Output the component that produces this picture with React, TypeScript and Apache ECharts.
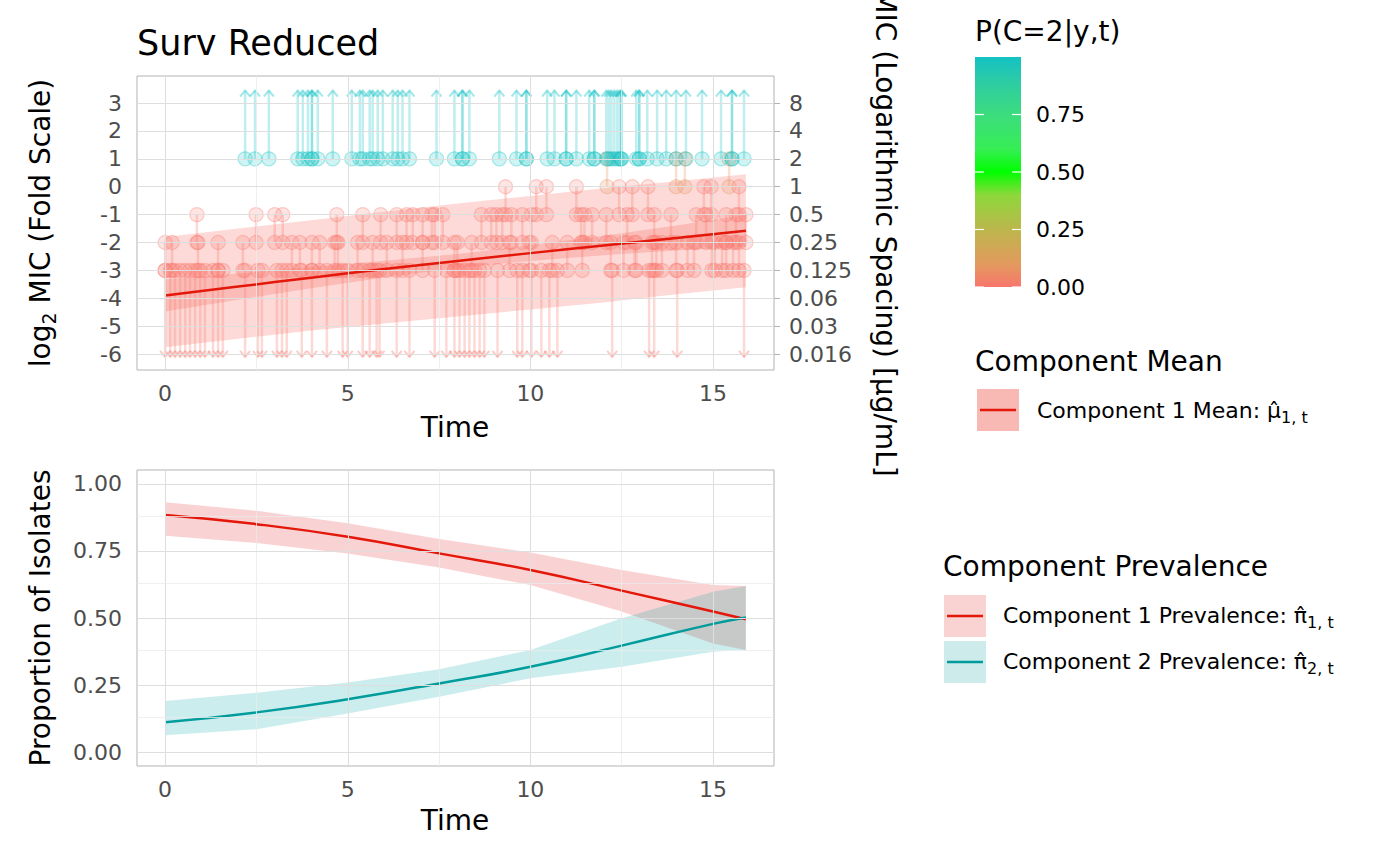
import * as echarts from 'echarts';
import React, { useEffect, useRef } from 'react';

const FONT = 'DejaVu Sans';

// ---- top panel: observed MIC values (log2 scale) ----
// right-censored isolates, observed at log2 = 1, arrow upwards
const rightCensTime = [
  2.19, 2.46, 2.84, 3.63, 3.77, 3.91, 4.02, 4.02, 4.18, 4.59, 5.11, 5.33, 5.41, 5.6, 5.68,
  5.82, 5.96, 6.23, 6.37, 6.5, 6.69, 7.43, 7.92, 8.14, 8.14, 8.33, 9.15, 9.62, 9.89, 9.89,
  10.46, 10.66, 10.98, 10.98, 11.26, 11.61, 11.75, 11.75, 12.08, 12.15, 12.22, 12.3, 12.38,
  12.45, 12.49, 12.49, 12.9, 12.98, 12.98, 13.2, 13.47, 13.72, 13.99, 14.26, 14.7, 15.22,
  15.52, 15.52, 15.85,
];
const rightCensLower = 1;
const rightCensProb = 1;

// left-censored isolates, observed at log2 = -3, arrow downwards
const leftCensTime = [
  0.0, 0.14, 0.27, 0.41, 0.55, 0.68, 0.82, 0.96, 1.09, 1.31, 1.45, 1.58, 2.19, 2.54, 2.65,
  3.06, 3.2, 3.33, 3.74, 4.02, 4.43, 4.86, 5.0, 5.41, 5.6, 5.79, 5.87, 6.34, 6.69, 7.38,
  7.7, 7.92, 8.06, 8.2, 8.33, 8.47, 8.61, 8.74, 9.1, 9.64, 9.78, 10.03, 10.3, 10.52, 10.74,
  12.24, 13.25, 13.39, 14.02, 15.85,
];
const leftCensUpper = -3;
const leftCensProb = 0;

// interval-censored isolates
const int0to1Time = [12.1, 13.99, 14.23, 15.44];
const intM1to0Time = [9.32, 10.16, 10.44, 11.26, 12.43, 12.79, 13.22, 14.75, 14.95, 15.71];
const intM2toM1Time = [
  0.87, 2.49, 3.0, 3.22, 4.7, 5.41, 5.9, 6.34, 6.61, 6.78, 7.05, 7.3, 7.38, 7.6, 8.66, 8.93,
  9.07, 9.23, 9.48, 9.78, 10.03, 11.39, 11.48, 11.69, 12.08, 12.65, 13.39, 13.85, 14.54,
  14.81, 15.36, 15.63, 15.9,
];
const intM3toM2Time = [
  0.0, 0.19, 0.9, 1.45, 2.13, 3.47, 3.69, 4.02, 4.23, 4.64, 4.73, 5.27, 5.68, 6.07, 6.5,
  7.05, 7.92, 8.0, 8.39, 9.43, 9.97, 10.6, 11.01, 11.42, 12.2, 12.55, 12.85, 12.9, 13.33,
  13.45, 13.6, 13.99, 14.3, 14.48, 14.97, 15.05, 15.25, 15.36, 15.55, 15.71,
];
const intervalTimes = [int0to1Time, intM1to0Time, intM2toM1Time, intM3toM2Time];
const intervalLower = [0, -1, -2, -3];
const intervalUpper = [1, 0, -1, -2];
const intervalProb = [0.08, 0, 0, 0];

// fitted component 1 mean with intervals
const fitTime = [0, 2, 4, 6, 8, 10, 12, 14, 15.9];
const fitMean = [-3.9, -3.58, -3.26, -2.95, -2.66, -2.38, -2.11, -1.84, -1.58];
const fitCiLower = [-4.47, -4.05, -3.64, -3.25, -2.91, -2.66, -2.46, -2.29, -2.15];
const fitCiUpper = [-3.33, -3.11, -2.88, -2.65, -2.41, -2.1, -1.76, -1.39, -1.01];
const fitPiLower = [-5.75, -5.45, -5.15, -4.9, -4.65, -4.4, -4.15, -3.85, -3.6];
const fitPiUpper = [-1.8, -1.5, -1.2, -0.9, -0.6, -0.33, -0.05, 0.2, 0.45];

// ---- bottom panel: component prevalence ----
const prevTime = [0, 2.5, 5, 7.5, 10, 12.5, 15, 15.9];
const prev1Mean = [0.884, 0.85, 0.803, 0.741, 0.679, 0.602, 0.524, 0.495];
const prev1Lower = [0.807, 0.78, 0.741, 0.688, 0.623, 0.524, 0.405, 0.381];
const prev1Upper = [0.932, 0.9, 0.853, 0.795, 0.744, 0.679, 0.623, 0.619];
const prev2Mean = [0.111, 0.148, 0.197, 0.256, 0.318, 0.397, 0.478, 0.502];
const prev2Lower = [0.063, 0.085, 0.144, 0.206, 0.275, 0.318, 0.374, 0.381];
const prev2Upper = [0.19, 0.221, 0.259, 0.309, 0.381, 0.499, 0.598, 0.619];

// ticks
const timeTicks = [0, 5, 10, 15];
const timeMinor = [2.5, 7.5, 12.5];
const log2Ticks = [-6, -5, -4, -3, -2, -1, 0, 1, 2, 3];
const micLabels = ['0.016', '0.03', '0.06', '0.125', '0.25', '0.5', '1', '2', '4', '8'];
const propTicks = [0, 0.25, 0.5, 0.75, 1];
const propLabels = ['0.00', '0.25', '0.50', '0.75', '1.00'];
const propMinor = [0.125, 0.375, 0.625, 0.875];
const probTicks = [0, 0.25, 0.5, 0.75];
const probLabels = ['0.00', '0.25', '0.50', '0.75'];

// colour scale for P(C=2|y,t)
const gradStops = [0, 0.1, 0.25, 0.4, 0.5, 0.6, 0.75, 0.9, 1];
const gradColors = ['#F8766D', '#E39A5E', '#BCB64C', '#8DD83B', '#00FF00', '#36EE55', '#3CDC7E', '#2BCBA6', '#14C2C4'];

const CENSOR_FLOOR = -6.1;
const CENSOR_CEIL = 3.45;

const RED = '#E3170A';
const TEAL = '#009B9B';

const hexRgb = (h: string) => [1, 3, 5].map((i) => parseInt(h.slice(i, i + 2), 16));
const colorAt = (p: number) => {
  let i = 0;
  while (i < gradStops.length - 2 && p > gradStops[i + 1]) i++;
  const f = (p - gradStops[i]) / (gradStops[i + 1] - gradStops[i]);
  const a = hexRgb(gradColors[i]);
  const b = hexRgb(gradColors[i + 1]);
  return a.map((v, k) => Math.round(v + (b[k] - v) * f));
};
const rgba = (c: number[], a: number) => `rgba(${c[0]},${c[1]},${c[2]},${a})`;

// [time, y from, y to, kind, prob]; kind 0 interval, 1 left-censored, 2 right-censored
const buildObs = () => {
  const rows: number[][] = [];
  intervalTimes.forEach((ts, g) =>
    ts.forEach((t) => rows.push([t, intervalLower[g], intervalUpper[g], 0, intervalProb[g]])),
  );
  leftCensTime.forEach((t) => rows.push([t, CENSOR_FLOOR, leftCensUpper, 1, leftCensProb]));
  rightCensTime.forEach((t) => rows.push([t, rightCensLower, CENSOR_CEIL, 2, rightCensProb]));
  return rows;
};

const bandSeries = (xs: number[], lo: number[], hi: number[], fill: string, xi: number, yi: number, z: number) => ({
  type: 'custom',
  xAxisIndex: xi,
  yAxisIndex: yi,
  z,
  silent: true,
  data: xs.map((x, i) => [x, lo[i], hi[i]]),
  encode: { x: 0, y: [1, 2] },
  renderItem: (params: any, api: any) => {
    if (params.dataIndex !== 0) return null;
    const top = xs.map((x, i) => api.coord([x, hi[i]]));
    const bot = xs.map((x, i) => api.coord([x, lo[i]])).reverse();
    return { type: 'polygon', shape: { points: top.concat(bot) }, style: { fill } };
  },
});

const gridLines = (xi: number, yi: number, yMajor: number[], yMinor: number[]) => {
  const major = { color: '#DEDEDE', width: 1.1, type: 'solid' };
  const minor = { color: '#EBEBEB', width: 0.8, type: 'solid' };
  return {
    type: 'line',
    xAxisIndex: xi,
    yAxisIndex: yi,
    data: [],
    z: 1,
    silent: true,
    markLine: {
      silent: true,
      symbol: ['none', 'none'],
      label: { show: false },
      data: [
        ...timeTicks.map((v) => ({ xAxis: v, lineStyle: major })),
        ...timeMinor.map((v) => ({ xAxis: v, lineStyle: minor })),
        ...yMajor.map((v) => ({ yAxis: v, lineStyle: major })),
        ...yMinor.map((v) => ({ yAxis: v, lineStyle: minor })),
      ],
    },
  };
};

const labelStyle = { color: '#4D4D4D', fontSize: 22, fontFamily: FONT };
const tickStyle = { show: true, length: 6, lineStyle: { color: '#B3B3B3', width: 1 } };

const txt = (x: number, y: number, text: string, size: number, extra: any = {}) => ({
  type: 'text',
  x,
  y,
  silent: true,
  ...extra,
  style: {
    text,
    fontSize: size,
    fontFamily: FONT,
    fill: '#000',
    align: 'left',
    verticalAlign: 'middle',
    textAlign: 'left',
    textVerticalAlign: 'middle',
    ...(extra.style || {}),
  },
});

const subRich = (size: number, subSize: number, lh: number) => ({
  a: { fontSize: size, fontFamily: FONT, fill: '#000', lineHeight: lh, verticalAlign: 'middle' },
  s: { fontSize: subSize, fontFamily: FONT, fill: '#000', lineHeight: subSize, verticalAlign: 'bottom' },
});

const buildOption = () => {
  const obs = buildObs();
  const colorbarTop = 57;
  const colorbarH = 230;
  const cbY = (v: number) => colorbarTop + colorbarH * (1 - v);

  const graphic: any[] = [
    txt(137, 43, 'Surv Reduced', 35),
    txt(455, 427, 'Time', 28, { style: { align: 'center', textAlign: 'center' } }),
    txt(455, 820, 'Time', 28, { style: { align: 'center', textAlign: 'center' } }),
    {
      type: 'text',
      x: 40,
      y: 223,
      rotation: Math.PI / 2,
      silent: true,
      style: {
        text: '{a|log}{s|2}{a| MIC (Fold Scale)}',
        rich: subRich(28, 19, 36),
        align: 'center',
        verticalAlign: 'middle',
        textAlign: 'center',
        textVerticalAlign: 'middle',
      },
    },
    txt(40, 618, 'Proportion of Isolates', 28, {
      rotation: Math.PI / 2,
      style: { align: 'center', textAlign: 'center' },
    }),
    // the reference clips this title at the top edge of the figure
    txt(885, 233, 'MIC (Logarithmic Spacing) [µg/mL]', 28, {
      rotation: -Math.PI / 2,
      style: { align: 'center', textAlign: 'center' },
    }),
    // colour bar legend
    txt(975, 31, 'P(C=2|y,t)', 28),
    {
      type: 'rect',
      silent: true,
      shape: { x: 975, y: colorbarTop, width: 46, height: colorbarH },
      style: {
        fill: {
          type: 'linear',
          x: 0,
          y: 1,
          x2: 0,
          y2: 0,
          colorStops: gradStops.map((o, i) => ({ offset: o, color: gradColors[i] })),
        },
      },
    },
    ...probTicks.flatMap((v) => [
      { type: 'line', silent: true, shape: { x1: 975, y1: cbY(v), x2: 984, y2: cbY(v) }, style: { stroke: '#FFFFFF', lineWidth: 1.2 } },
      { type: 'line', silent: true, shape: { x1: 1012, y1: cbY(v), x2: 1021, y2: cbY(v) }, style: { stroke: '#FFFFFF', lineWidth: 1.2 } },
    ]),
    ...probTicks.map((v, i) => txt(1036, cbY(v), probLabels[i], 22)),
    // component mean legend
    txt(975, 361, 'Component Mean', 28),
    { type: 'rect', silent: true, shape: { x: 977, y: 389, width: 42, height: 42 }, style: { fill: '#F8B9B4' } },
    { type: 'line', silent: true, shape: { x1: 980, y1: 410, x2: 1016, y2: 410 }, style: { stroke: RED, lineWidth: 2.5 } },
    {
      type: 'text',
      x: 1037,
      y: 410,
      silent: true,
      style: {
        text: '{a|Component 1 Mean: μ̂}{s|1, t}',
        rich: subRich(22, 16, 30),
        align: 'left',
        verticalAlign: 'middle',
        textAlign: 'left',
        textVerticalAlign: 'middle',
      },
    },
    // prevalence legend
    txt(943, 566, 'Component Prevalence', 28),
    { type: 'rect', silent: true, shape: { x: 944, y: 595, width: 42, height: 42 }, style: { fill: '#F9D3D2' } },
    { type: 'line', silent: true, shape: { x1: 947, y1: 616, x2: 983, y2: 616 }, style: { stroke: RED, lineWidth: 2.5 } },
    { type: 'rect', silent: true, shape: { x: 944, y: 641, width: 42, height: 42 }, style: { fill: '#CDEBEB' } },
    { type: 'line', silent: true, shape: { x1: 947, y1: 662, x2: 983, y2: 662 }, style: { stroke: TEAL, lineWidth: 2.5 } },
    ...[1, 2].map((k, i) => ({
      type: 'text',
      x: 1003,
      y: i === 0 ? 615 : 661,
      silent: true,
      style: {
        text: `{a|Component ${k} Prevalence: π̂}{s|${k}, t}`,
        rich: subRich(22, 16, 30),
        align: 'left',
        verticalAlign: 'middle',
        textAlign: 'left',
        textVerticalAlign: 'middle',
      },
    })),
  ];

  const xAxis = [0, 1].map((g) => ({
    type: 'value',
    gridIndex: g,
    min: -0.77,
    max: 16.67,
    axisLine: { show: false },
    splitLine: { show: false },
    axisTick: { ...tickStyle, customValues: timeTicks },
    axisLabel: { ...labelStyle, customValues: timeTicks, margin: 12 },
  }));

  const yAxis = [
    {
      type: 'value',
      gridIndex: 0,
      min: -6.57,
      max: 3.97,
      axisLine: { show: false },
      splitLine: { show: false },
      axisTick: { ...tickStyle, customValues: log2Ticks },
      axisLabel: { ...labelStyle, customValues: log2Ticks, margin: 15 },
    },
    {
      type: 'value',
      gridIndex: 0,
      position: 'right',
      min: -6.57,
      max: 3.97,
      axisLine: { show: false },
      splitLine: { show: false },
      axisTick: { ...tickStyle, customValues: log2Ticks },
      axisLabel: {
        ...labelStyle,
        customValues: log2Ticks,
        margin: 15,
        formatter: (v: number) => micLabels[log2Ticks.indexOf(Math.round(v))],
      },
    },
    {
      type: 'value',
      gridIndex: 1,
      min: -0.052,
      max: 1.052,
      axisLine: { show: false },
      splitLine: { show: false },
      axisTick: { ...tickStyle, customValues: propTicks },
      axisLabel: {
        ...labelStyle,
        customValues: propTicks,
        margin: 15,
        formatter: (v: number) => propLabels[propTicks.indexOf(v)],
      },
    },
  ];

  const series: any[] = [
    gridLines(0, 0, log2Ticks, []),
    gridLines(1, 2, propTicks, propMinor),
    bandSeries(fitTime, fitPiLower, fitPiUpper, 'rgba(248,118,109,0.27)', 0, 0, 2),
    bandSeries(fitTime, fitCiLower, fitCiUpper, 'rgba(248,118,109,0.3)', 0, 0, 2),
    {
      type: 'custom',
      xAxisIndex: 0,
      yAxisIndex: 0,
      z: 3,
      silent: true,
      data: obs,
      encode: { x: 0, y: [1, 2] },
      renderItem: (params: any, api: any) => {
        const t = api.value(0);
        const a = api.coord([t, api.value(1)]);
        const b = api.coord([t, api.value(2)]);
        const kind = api.value(3);
        const c = colorAt(api.value(4));
        const circle = (pt: number[]) => ({
          type: 'circle',
          shape: { cx: pt[0], cy: pt[1], r: 7 },
          style: { fill: rgba(c, 0.2), stroke: rgba(c, 0.35), lineWidth: 1.2 },
        });
        const arrow = (pt: number[], down: boolean) => {
          const dy = down ? -6 : 6;
          return {
            type: 'polyline',
            shape: { points: [[pt[0] - 5, pt[1] + dy], [pt[0], pt[1]], [pt[0] + 5, pt[1] + dy]] },
            style: { stroke: rgba(c, 0.38), lineWidth: 2, fill: 'none' },
          };
        };
        const children: any[] = [
          {
            type: 'line',
            shape: { x1: a[0], y1: a[1], x2: b[0], y2: b[1] },
            style: { stroke: rgba(c, 0.28), lineWidth: 2.5 },
          },
        ];
        if (kind === 0) children.push(circle(a), circle(b));
        if (kind === 1) children.push(circle(b), arrow(a, true));
        if (kind === 2) children.push(circle(a), arrow(b, false));
        return { type: 'group', children };
      },
    },
    {
      type: 'line',
      xAxisIndex: 0,
      yAxisIndex: 0,
      z: 4,
      silent: true,
      showSymbol: false,
      smooth: true,
      data: fitTime.map((t, i) => [t, fitMean[i]]),
      lineStyle: { color: RED, width: 2.5 },
    },
    bandSeries(prevTime, prev1Lower, prev1Upper, 'rgba(230,78,78,0.25)', 1, 2, 2),
    bandSeries(prevTime, prev2Lower, prev2Upper, 'rgba(0,165,165,0.2)', 1, 2, 3),
    {
      type: 'line',
      xAxisIndex: 1,
      yAxisIndex: 2,
      z: 4,
      silent: true,
      showSymbol: false,
      smooth: true,
      data: prevTime.map((t, i) => [t, prev1Mean[i]]),
      lineStyle: { color: RED, width: 2.5 },
    },
    {
      type: 'line',
      xAxisIndex: 1,
      yAxisIndex: 2,
      z: 4,
      silent: true,
      showSymbol: false,
      smooth: true,
      data: prevTime.map((t, i) => [t, prev2Mean[i]]),
      lineStyle: { color: TEAL, width: 2.5 },
    },
  ];

  return {
    animation: false,
    backgroundColor: '#FFFFFF',
    textStyle: { fontFamily: FONT },
    grid: [
      { left: 137, top: 76, width: 637, height: 294, show: true, borderColor: '#B3B3B3', borderWidth: 1, backgroundColor: 'transparent' },
      { left: 137, top: 470, width: 637, height: 296, show: true, borderColor: '#B3B3B3', borderWidth: 1, backgroundColor: 'transparent' },
    ],
    xAxis,
    yAxis,
    series,
    graphic,
  };
};

const App: React.FC = () => {
  const chartRef = useRef<HTMLDivElement>(null);
  useEffect(() => {
    document.body.style.margin = '0';
    if (!chartRef.current) return;
    const chart = echarts.init(chartRef.current, null, { renderer: 'svg' });
    chart.setOption(buildOption() as any);
    return () => {
      chart.dispose();
    };
  }, []);

  return <div ref={chartRef} style={{ width: '1400px', height: '865px' }} />;
};

export default App;
